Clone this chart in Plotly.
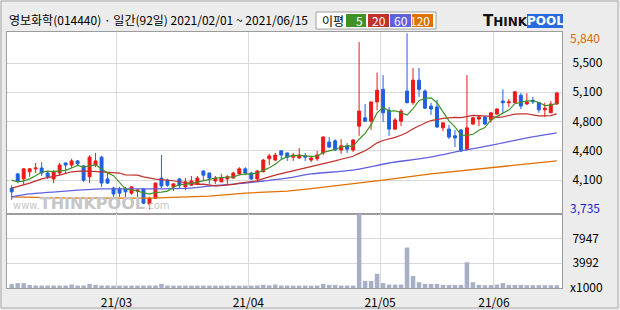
import plotly.graph_objects as go

# ---------------- data ----------------
opens = [3990, 4160, 4100, 4185, 4220, 4230, 4170, 4100, 4170, 4290,
         4265, 4315, 4255, 4125, 4265, 4360, 4100, 3990, 3980, 3980,
         3930, 3955, 3980, 3800, 3870, 4110, 4085, 4005, 4100, 4005,
         4025, 4040, 4195, 4170, 4075, 4065, 4100, 4110, 4160, 4220,
         4170, 4100, 4185, 4340, 4325, 4435, 4410, 4360, 4350, 4375,
         4325, 4340, 4410, 4540, 4555, 4445, 4495, 4445, 4730, 4830,
         4790, 5020, 5170, 4920, 4695, 4790, 5150, 5010, 5280, 5150,
         4970, 4960, 4710, 4695, 4615, 4685, 4455, 4755, 4815, 4840,
         4805, 4875, 5030, 5010, 5010, 5100, 4995, 5040, 5010, 4925,
         4890, 4995]
highs = [4025, 4170, 4230, 4230, 4290, 4300, 4185, 4205, 4290, 4295,
         4340, 4325, 4265, 4385, 4410, 4375, 4170, 4005, 4005, 4005,
         4005, 3980, 3990, 3885, 4055, 4385, 4100, 4050, 4110, 4110,
         4135, 4135, 4200, 4175, 4135, 4160, 4145, 4185, 4240, 4240,
         4185, 4200, 4340, 4400, 4410, 4440, 4415, 4410, 4470, 4410,
         4375, 4435, 4610, 4600, 4575, 4575, 4530, 4575, 5735, 4995,
         5020, 5370, 5340, 4960, 4830, 4935, 5840, 5425, 5425, 5170,
         5010, 5045, 4770, 4745, 4685, 4695, 5340, 4840, 4850, 4850,
         4890, 4945, 5170, 5055, 5150, 5125, 5125, 5080, 5010, 5010,
         5030, 5140]
lows = [3850, 4050, 4025, 4125, 4170, 4135, 4100, 4050, 4145, 4170,
        4230, 4255, 4065, 4050, 4240, 4005, 4040, 3885, 3885, 3885,
        3910, 3885, 3800, 3735, 3860, 3990, 4005, 3955, 3990, 3965,
        4015, 4025, 4085, 4040, 4040, 4060, 4025, 4105, 4145, 4145,
        4085, 4075, 4180, 4265, 4315, 4325, 4315, 4315, 4340, 4315,
        4300, 4315, 4385, 4470, 4435, 4400, 4410, 4420, 4615, 4780,
        4685, 4920, 4780, 4615, 4685, 4730, 5005, 4985, 5080, 4935,
        4865, 4710, 4670, 4575, 4480, 4420, 4435, 4745, 4730, 4745,
        4770, 4865, 4890, 4960, 5005, 4935, 4985, 4995, 4890, 4840,
        4885, 4985]
closes = [3945, 4075, 4220, 4220, 4230, 4170, 4125, 4185, 4265, 4265,
          4315, 4280, 4085, 4360, 4315, 4050, 4050, 3920, 3930, 3945,
          4005, 3965, 3810, 3870, 4050, 4015, 4025, 4040, 4025, 4065,
          4075, 4110, 4145, 4110, 4110, 4110, 4125, 4170, 4220, 4170,
          4100, 4195, 4325, 4375, 4385, 4385, 4360, 4385, 4385, 4360,
          4350, 4385, 4600, 4480, 4445, 4495, 4455, 4565, 4910, 4790,
          5020, 5160, 4890, 4695, 4805, 4910, 5010, 5280, 5170, 4945,
          4935, 4720, 4770, 4600, 4590, 4435, 4710, 4830, 4840, 4755,
          4890, 4935, 5010, 5020, 5140, 4970, 5020, 5020, 4925, 4945,
          4995, 5125]
# volume in thousands of shares
volumes = [620, 780, 780, 500, 400, 400, 400, 400, 400, 400,
           550, 400, 400, 660, 500, 400, 400, 380, 380, 380,
           380, 380, 400, 400, 400, 660, 400, 380, 380, 380,
           380, 380, 380, 380, 380, 380, 380, 380, 380, 380,
           380, 400, 500, 420, 550, 400, 400, 380, 380, 380,
           380, 400, 660, 500, 500, 400, 400, 400, 11920, 1140,
           1140, 2300, 780, 550, 550, 550, 6520, 1930, 930, 660,
           660, 660, 500, 500, 500, 500, 4150, 930, 500, 450,
           450, 550, 780, 500, 500, 500, 450, 450, 450, 450,
           450, 450]

# moving averages whose window starts before 2021/02/01
ma5_lead = [4085, 4065, 4075, 4100]
ma20_lead_idx = [0, 3, 5, 8, 10, 12, 15, 18]
ma20_lead = [3990, 4050, 4100, 4145, 4185, 4195, 4185, 4170]
ma60_idx = [0, 3, 9, 15, 22, 30, 33, 39, 42, 46, 50, 57, 63, 69, 75, 81, 86, 91]
ma60_val = [3885, 3920, 3955, 3980, 3980, 3990, 4015, 4050, 4075, 4110,
            4160, 4205, 4290, 4350, 4435, 4515, 4590, 4650]
ma120_idx = [0, 10, 23, 28, 33, 39, 46, 50, 55, 62, 70, 76, 81, 86, 91]
ma120_val = [3885, 3870, 3870, 3885, 3895, 3930, 3955, 3985, 4025, 4085,
             4160, 4205, 4240, 4280, 4315]

month_labels = ["21/03", "21/04", "21/05", "21/06"]
month_start_idx = [18, 40, 62, 81]
price_tick_vals = [4085, 4435, 4785, 5135, 5485]
price_tick_text = ["4,100", "4,400", "4,800", "5,100", "5,500"]
price_max_label = "5,840"
price_min_label = "3,735"
vol_tick_vals = [3992, 7947]
vol_tick_text = ["3992", "7947"]
vol_unit = "x1000"
title_text = "영보화학(014440) · 일간(92일) 2021/02/01 ~ 2021/06/15"
legend_periods = ["5", "20", "60", "120"]

# ---------------- derived ----------------
n = len(closes)
idx = list(range(n))
ma5 = ma5_lead + [sum(closes[i - 4:i + 1]) / 5 for i in range(4, n)]
ma20_x = ma20_lead_idx + list(range(19, n))
ma20_y = ma20_lead + [sum(closes[i - 19:i + 1]) / 20 for i in range(19, n)]

# ---------------- style ----------------
RED = "#f01818"
BLUE = "#2060e0"
C_MA5 = "#3f9124"
C_MA20 = "#c0302c"
C_MA60 = "#6060e0"
C_MA120 = "#e07000"
GRID = "#d9d9d9"
FRAME = "#9c9c9c"
FONT = "Noto Sans CJK KR"

W, H = 620, 310
PL, PR, PT, PB = 7, 562, 32, 288


def px_x(px):
    return (px - PL) / (PR - PL)


def px_y(py):
    return (PB - py) / (PB - PT)


split = px_y(214)

fig = go.Figure()
fig.add_trace(go.Candlestick(
    x=idx, open=opens, high=highs, low=lows, close=closes,
    increasing=dict(line=dict(color=RED, width=1), fillcolor=RED),
    decreasing=dict(line=dict(color=BLUE, width=1), fillcolor=BLUE),
    xaxis="x", yaxis="y", showlegend=False, hoverinfo="skip"))
fig.add_trace(go.Scatter(x=ma120_idx, y=ma120_val, mode="lines",
                         line=dict(color=C_MA120, width=1.3), xaxis="x", yaxis="y",
                         showlegend=False, hoverinfo="skip"))
fig.add_trace(go.Scatter(x=ma60_idx, y=ma60_val, mode="lines",
                         line=dict(color=C_MA60, width=1.3, shape="spline", smoothing=0.6),
                         xaxis="x", yaxis="y", showlegend=False, hoverinfo="skip"))
fig.add_trace(go.Scatter(x=ma20_x, y=ma20_y, mode="lines",
                         line=dict(color=C_MA20, width=1.2), xaxis="x", yaxis="y",
                         showlegend=False, hoverinfo="skip"))
fig.add_trace(go.Scatter(x=idx, y=ma5, mode="lines",
                         line=dict(color=C_MA5, width=1.2), xaxis="x", yaxis="y",
                         showlegend=False, hoverinfo="skip"))
fig.add_trace(go.Bar(x=idx, y=volumes, marker=dict(color="#a7afc6", line=dict(width=0)),
                     width=0.75, xaxis="x2", yaxis="y2", showlegend=False, hoverinfo="skip"))

xr = [(PL - 11.7) / 5.99, (PR - 11.7) / 5.99]
grid_x = [s - 0.5 for s in month_start_idx]
axis_common = dict(showline=True, mirror=True, linecolor=FRAME, linewidth=1,
                   zeroline=False, fixedrange=True, automargin=False)

fig.update_layout(
    width=W, height=H,
    margin=dict(l=PL, r=W - PR, t=PT, b=H - PB, pad=0, autoexpand=False),
    paper_bgcolor="#ececec", plot_bgcolor="#ffffff",
    font=dict(family=FONT, size=12, color="#000000"),
    bargap=0.25,
    xaxis=dict(domain=[0, 1], range=xr, anchor="y", tickvals=grid_x,
               showticklabels=False, ticks="", showgrid=True, gridcolor=GRID,
               rangeslider=dict(visible=False), **axis_common),
    xaxis2=dict(domain=[0, 1], range=xr, anchor="y2", matches="x", tickvals=grid_x,
                ticktext=month_labels, ticks="", showgrid=True, gridcolor=GRID,
                ticklabelstandoff=4, tickfont=dict(size=12, color="#000000"),
                **axis_common),
    yaxis=dict(domain=[split, 1], range=[3680.6, 5855.4], side="right",
               tickvals=price_tick_vals, ticktext=price_tick_text, ticks="",
               ticklabelstandoff=7, showgrid=True, gridcolor=GRID,
               tickfont=dict(size=12, color="#000000"), **axis_common),
    yaxis2=dict(domain=[0, split], range=[0, max(volumes)], side="right",
                tickvals=vol_tick_vals, ticktext=vol_tick_text, ticks="",
                ticklabelstandoff=7, showgrid=True, gridcolor=GRID,
                tickfont=dict(size=12, color="#000000"), **axis_common),
)

ann = []
ann.append(dict(text=title_text, x=px_x(7), y=px_y(19), xanchor="left", yanchor="middle",
                font=dict(size=12, color="#000000")))
ann.append(dict(text=price_max_label, x=1, y=px_y(37), xanchor="left", yanchor="middle",
                xshift=6, font=dict(size=12, color="#d86a00")))
ann.append(dict(text=price_min_label, x=1, y=px_y(207), xanchor="left", yanchor="middle",
                xshift=6, font=dict(size=12, color="#1c1cd0")))
ann.append(dict(text=vol_unit, x=1, y=px_y(286), xanchor="left", yanchor="middle",
                xshift=6, font=dict(size=12, color="#000000")))
# legend
ann.append(dict(text="이평", x=px_x(320), y=px_y(20), xanchor="left", yanchor="middle",
                font=dict(size=12, color="#000000")))
box_x = [(346, 366), (368, 389), (390, 411), (412, 433)]
box_c = [C_MA5, C_MA20, C_MA60, C_MA120]
shapes = []
shapes.append(dict(type="rect", xref="paper", yref="paper",
                   x0=px_x(1), x1=px_x(618), y0=px_y(308), y1=px_y(1),
                   line=dict(color="#a8a8a8", width=1), fillcolor="rgba(0,0,0,0)", layer="below"))
shapes.append(dict(type="rect", xref="paper", yref="paper",
                   x0=px_x(316), x1=px_x(436), y0=px_y(29), y1=px_y(12),
                   line=dict(color="#a0a0a0", width=1), fillcolor="#ffffff"))
for (a, b), c, t in zip(box_x, box_c, legend_periods):
    shapes.append(dict(type="rect", xref="paper", yref="paper",
                       x0=px_x(a), x1=px_x(b), y0=px_y(27), y1=px_y(14),
                       line=dict(width=0), fillcolor=c))
    ann.append(dict(text=t, x=px_x(b - 1), y=px_y(20.5), xanchor="right", yanchor="middle",
                    font=dict(size=12, color="#ffffff")))
# THINKPOOL logo
shapes.append(dict(type="rect", xref="paper", yref="paper",
                   x0=px_x(527), x1=px_x(563), y0=px_y(28), y1=px_y(14),
                   line=dict(width=0), fillcolor="#2b6ade"))
ann.append(dict(text="<b>T<span style='font-size:12px'>HINK</span></b>",
                x=px_x(481), y=px_y(21), xanchor="left", yanchor="middle",
                font=dict(family="DejaVu Sans", size=15, color="#111111")))
ann.append(dict(text="<b>POOL</b>", x=px_x(545), y=px_y(21), xanchor="center",
                yanchor="middle", font=dict(family="DejaVu Sans", size=12, color="#ffffff")))
# watermark
ann.append(dict(text="www.<b><span style='font-size:16px'>THINKPOOL</span></b>.com",
                x=px_x(91), y=px_y(203), xanchor="center", yanchor="middle",
                font=dict(family="DejaVu Sans", size=10, color="#c6c6c6")))

for a in ann:
    a.setdefault("xref", "paper")
    a.setdefault("yref", "paper")
    a.setdefault("showarrow", False)
fig.update_layout(annotations=ann, shapes=shapes)

fig.write_html("out.html")
